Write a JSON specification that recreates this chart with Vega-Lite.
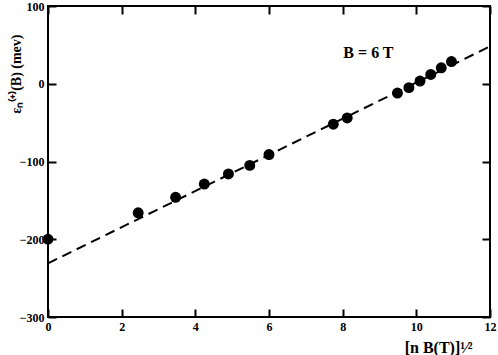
{
  "$schema": "https://vega.github.io/schema/vega-lite/v6.json",
  "autosize": "none",
  "width": 442,
  "height": 311,
  "padding": {"left": 48, "top": 6, "right": 8, "bottom": 38},
  "background": "white",
  "config": {
    "view": {"stroke": "black", "strokeWidth": 2},
    "font": "Liberation Serif",
    "axis": {
      "domain": false, "ticks": false,
      "grid": true, "gridColor": "black", "gridWidth": 2, "gridOpacity": 1,
      "labelFont": "Liberation Serif", "labelFontWeight": "bold", "labelFontSize": 12, "labelColor": "black",
      "titleFont": "Liberation Serif", "titleFontWeight": "bold", "titleFontSize": 15, "titleColor": "black"
    }
  },
  "datasets": {
    "pts": [
      {"x": 0, "y": -200},
      {"x": 2.449, "y": -166},
      {"x": 3.464, "y": -146},
      {"x": 4.243, "y": -129},
      {"x": 4.899, "y": -116},
      {"x": 5.477, "y": -105},
      {"x": 6.0, "y": -91},
      {"x": 7.746, "y": -52},
      {"x": 8.124, "y": -44},
      {"x": 9.487, "y": -12},
      {"x": 9.798, "y": -5},
      {"x": 10.1, "y": 3.5},
      {"x": 10.392, "y": 12},
      {"x": 10.677, "y": 20.5},
      {"x": 10.954, "y": 28.5}
    ],
    "fit": [
      {"x": 0, "y": -231},
      {"x": 12, "y": 48}
    ],
    "label": [
      {"x": 8.7, "y": 40, "text": "B = 6 T"}
    ]
  },
  "resolve": {"axis": {"x": "independent", "y": "independent"}},
  "layer": [
    {
      "data": {"name": "fit"},
      "mark": {"type": "line", "color": "black", "strokeWidth": 2, "strokeDash": [10, 6]},
      "encoding": {
        "x": {"field": "x", "type": "quantitative",
              "scale": {"domain": [0, 12], "nice": false, "zero": false},
              "axis": {"orient": "bottom", "values": [0, 2, 4, 6, 8, 10, 12], "labelPadding": 4, "labelFlush": false,
                       "gridDash": [8, 295, 8, 1000],
                       "title": "[n B(T)]¹⁄²", "titleFontSize": 16, "titleAlign": "right", "titleX": 424, "titleY": 35, "titleBaseline": "alphabetic"}},
        "y": {"field": "y", "type": "quantitative",
              "scale": {"domain": [-300, 100], "nice": false, "zero": false},
              "axis": {"orient": "left", "values": [-300, -200, -100, 0, 100], "labelPadding": 4, "labelFlush": false,
                       "gridDash": [8, 426, 8, 1000],
                       "title": "εₙ⁽⁺⁾(B) (mev)", "titleFontSize": 14, "titleAngle": -90, "titleAlign": "right", "titleX": -28, "titleY": 28, "titleBaseline": "alphabetic"}}
      }
    },
    {
      "data": {"name": "pts"},
      "mark": {"type": "circle", "color": "black", "opacity": 1, "size": 120},
      "encoding": {
        "x": {"field": "x", "type": "quantitative", "axis": null},
        "y": {"field": "y", "type": "quantitative", "axis": null}
      }
    },
    {
      "data": {"name": "label"},
      "mark": {"type": "text", "font": "Liberation Serif", "fontWeight": "bold", "fontSize": 16, "color": "black"},
      "encoding": {
        "x": {"field": "x", "type": "quantitative", "axis": null},
        "y": {"field": "y", "type": "quantitative", "axis": null},
        "text": {"field": "text"}
      }
    }
  ]
}
